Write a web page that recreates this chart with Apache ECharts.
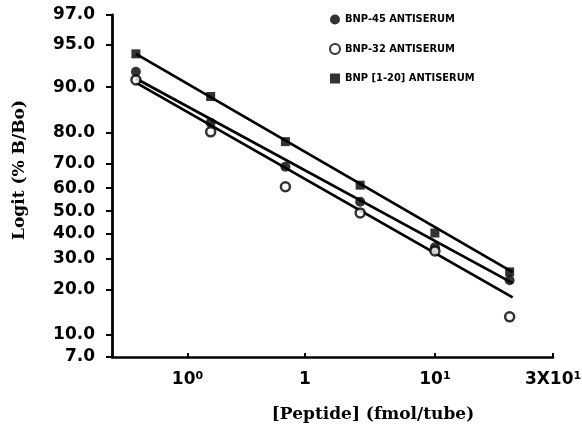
<!DOCTYPE html>
<html>
<head>
<meta charset="utf-8">
<script src="https://cdn.jsdelivr.net/npm/echarts@6/dist/echarts.min.js"></script>
<style>html,body{margin:0;padding:0;background:#fff}#c{width:582px;height:433px}</style>
</head>
<body>
<div id="c"></div>
<script>
// x positions of the dilution points (log-spaced steps as drawn on the axis)
const dosePos = [0, 1, 2, 3, 4, 5];
// % B/Bo
const bnp45 = [92.2, 82.7, 68.7, 54.1, 34.5, 22.7];
const bnp32 = [91.1, 80.3, 60.6, 49.2, 33.0, 13.3];
const bnp120 = [94.2, 88.4, 77.4, 61.3, 40.4, 25.4];
// fitted lines: % B/Bo at the first and last dilution
const fitPos = [0, 5.04];
const fit45 = [91.3, 21.8];
const fit32 = [90.7, 17.8];
const fit120 = [94.2, 25.3];
// axis ticks
const yTickLabels = ['97.0','95.0','90.0','80.0','70.0','60.0','50.0','40.0','30.0','20.0','10.0','7.0'];
const xTickPos = [0.69, 2.26, 4.0, 5.58];
const xTickLabels = ['10{s|0}', '1', '10{s|1}', '3X10{s|1}'];
const seriesNames = ['BNP-45 ANTISERUM', 'BNP-32 ANTISERUM', 'BNP [1-20] ANTISERUM'];

const logit = p => Math.log((p / 100) / (1 - p / 100));
const yTickVals = yTickLabels.map(s => logit(parseFloat(s)));
const pts = arr => dosePos.map((x, i) => [x, logit(arr[i])]);
const fitPts = arr => fitPos.map((x, i) => [x, logit(arr[i])]);

const chart = echarts.init(document.getElementById('c'), null, {renderer: 'canvas'});
const lineStyle = {color: '#000', width: 2.8};
chart.setOption({
  backgroundColor: '#fff',
  animation: false,
  grid: {left: 112, right: 29, top: 15, bottom: 76, containLabel: false, outerBoundsMode: 'none'},
  legend: {
    orient: 'vertical', left: 324, top: 9, itemWidth: 10, itemHeight: 10, itemGap: 18,
    data: seriesNames,
    textStyle: {fontFamily: '"DejaVu Sans Condensed", "Liberation Sans Narrow", sans-serif', fontWeight: 'bold', fontSize: 11, color: '#000'}
  },
  xAxis: {
    type: 'value', min: -0.32, max: 5.58,
    splitLine: {show: false},
    axisLine: {onZero: false, lineStyle: {color: '#000', width: 2.5}},
    axisTick: {inside: true, length: 4, lineStyle: {width: 2, color: '#000'}, customValues: xTickPos},
    axisLabel: {
      customValues: xTickPos, margin: 14, color: '#000',
      fontFamily: 'DejaVu Sans', fontWeight: 'bold', fontSize: 17,
      formatter: v => {
        let best = 0;
        xTickPos.forEach((t, i) => { if (Math.abs(t - v) < Math.abs(xTickPos[best] - v)) best = i; });
        return xTickLabels[best];
      },
      rich: {s: {fontFamily: 'DejaVu Sans', fontWeight: 'bold', fontSize: 11, verticalAlign: 'top', color: '#000'}}
    }
  },
  yAxis: {
    type: 'value', min: logit(7), max: logit(97),
    splitLine: {show: false},
    axisLine: {onZero: false, lineStyle: {color: '#000', width: 2.8}},
    axisTick: {length: 6, lineStyle: {width: 2, color: '#000'}, customValues: yTickVals},
    axisLabel: {
      customValues: yTickVals, margin: 17, color: '#000',
      fontFamily: 'DejaVu Sans', fontWeight: 'bold', fontSize: 17,
      formatter: v => {
        let best = 0;
        yTickVals.forEach((t, i) => { if (Math.abs(t - v) < Math.abs(yTickVals[best] - v)) best = i; });
        return yTickLabels[best];
      }
    }
  },
  graphic: [
    {type: 'text', x: 20, y: 170, rotation: Math.PI / 2,
     style: {text: 'Logit (% B/Bo)', fill: '#000', font: 'bold 17px "DejaVu Serif"', align: 'center', verticalAlign: 'middle'}},
    {type: 'text', x: 373, y: 415,
     style: {text: '[Peptide] (fmol/tube)', fill: '#000', font: 'bold 17px "DejaVu Serif"', align: 'center', verticalAlign: 'middle'}}
  ],
  series: [
    {type: 'line', data: fitPts(fit45), symbol: 'none', lineStyle: lineStyle, silent: true},
    {type: 'line', data: fitPts(fit32), symbol: 'none', lineStyle: lineStyle, silent: true},
    {type: 'line', data: fitPts(fit120), symbol: 'none', lineStyle: lineStyle, silent: true},
    {name: seriesNames[0], type: 'scatter', data: pts(bnp45), symbol: 'circle', symbolSize: 10,
     itemStyle: {color: '#000'}, z: 3},
    {name: seriesNames[1], type: 'scatter', data: pts(bnp32), symbol: 'circle', symbolSize: 9,
     itemStyle: {color: '#fff', borderColor: '#000', borderWidth: 2.5}, z: 4},
    {name: seriesNames[2], type: 'scatter', data: pts(bnp120), symbol: 'rect', symbolSize: 9,
     itemStyle: {color: '#000'}, z: 3}
  ]
});
</script>
</body>
</html>
